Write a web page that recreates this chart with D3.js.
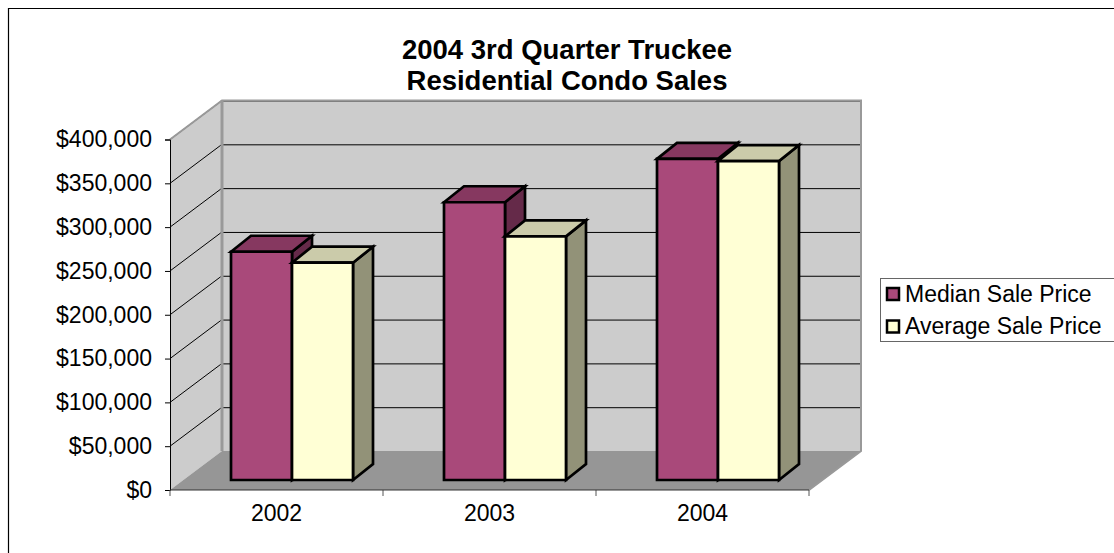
<!DOCTYPE html>
<html lang="en">
<head>
    <meta charset="UTF-8">
    <title>2004 3rd Quarter Truckee Residential Condo Sales</title>
    <style>
        body { margin: 0; padding: 0; background: #ffffff; overflow: hidden; }
        svg { display: block; }
        text { font-family: 'Liberation Sans', Arial, sans-serif; fill: #000000; }
        .tick-label { font-size: 23px; }
        .title { font-size: 27.5px; font-weight: bold; }
        .grid { stroke: #000000; stroke-width: 1px; fill: none; }
        .bar { stroke: #000000; stroke-width: 2.7px; stroke-linejoin: miter; }
    </style>
</head>
<body>
    <div id="chart"></div>

    <script src="https://d3js.org/d3.v7.min.js"></script>
    <script>
        const years = ['2002', '2003', '2004'];
        const seriesNames = ['Median Sale Price', 'Average Sale Price'];
        const medianPrice = [260500, 317000, 366500];
        const averagePrice = [248000, 278000, 364000];
        const yTicks = [0, 50000, 100000, 150000, 200000, 250000, 300000, 350000, 400000];
        const titleLines = ['2004 3rd Quarter Truckee', 'Residential Condo Sales'];

        const width = 1114;
        const height = 553;

        // front plane of the 3d box, everything else is shifted from it
        const plotLeft = 170, plotRight = 809, plotTop = 139.5, plotBottom = 490;
        const depthX = 52, depthY = -39;
        const barShiftX = 15.5, barShiftY = -10;
        const barDepthX = 20, barDepthY = -16;

        const svg = d3.select('#chart').append('svg')
            .attr('width', width)
            .attr('height', height);

        const x = d3.scaleBand().domain(years).range([plotLeft, plotRight]);
        const xInner = d3.scaleBand().domain(seriesNames)
            .range([0, x.bandwidth()])
            .paddingInner(0)
            .paddingOuter(0.746);
        const y = d3.scaleLinear().domain([0, 400000]).range([plotBottom, plotTop]);

        const poly = pts => d3.line()(pts) + 'Z';

        // frame, only the top and left edges show in the picture
        svg.append('path')
            .attr('d', d3.line()([[8.5, height], [8.5, 8.5], [width, 8.5]]))
            .attr('fill', 'none').attr('stroke', '#000000').attr('stroke-width', 1.2);

        // walls and floor
        svg.append('path')
            .attr('d', poly([[plotLeft, plotTop], [plotLeft + depthX, plotTop + depthY], [plotLeft + depthX, plotBottom + depthY], [plotLeft, plotBottom]]))
            .attr('fill', '#cccccc');
        svg.append('path')
            .attr('d', poly([[plotLeft + depthX, plotTop + depthY], [plotRight + depthX, plotTop + depthY], [plotRight + depthX, plotBottom + depthY], [plotLeft + depthX, plotBottom + depthY]]))
            .attr('fill', '#cccccc');
        svg.append('path')
            .attr('d', poly([[plotLeft, plotBottom], [plotRight, plotBottom], [plotRight + depthX, plotBottom + depthY], [plotLeft + depthX, plotBottom + depthY]]))
            .attr('fill', '#969696');

        // gridlines
        svg.append('g').selectAll('line')
            .data(yTicks.slice(1))
            .enter().append('line')
            .attr('class', 'grid')
            .attr('x1', plotLeft + depthX).attr('x2', plotRight + depthX)
            .attr('y1', d => y(d) + depthY + 0.5).attr('y2', d => y(d) + depthY + 0.5);
        svg.append('g').selectAll('line')
            .data(yTicks.slice(1))
            .enter().append('line')
            .attr('class', 'grid')
            .attr('x1', plotLeft).attr('x2', plotLeft + depthX)
            .attr('y1', d => y(d)).attr('y2', d => y(d) + depthY);

        // wall outlines
        svg.append('path')
            .attr('d', d3.line()([[plotLeft, plotTop], [plotLeft + depthX, plotTop + depthY], [plotRight + depthX, plotTop + depthY], [plotRight + depthX, plotBottom + depthY], [plotRight, plotBottom]]))
            .attr('fill', 'none').attr('stroke', '#999999').attr('stroke-width', 2);
        svg.append('line')
            .attr('x1', plotLeft + depthX).attr('x2', plotLeft + depthX)
            .attr('y1', plotTop + depthY).attr('y2', plotBottom + depthY)
            .attr('stroke', '#999999').attr('stroke-width', 3);

        // bars, median first so that the average bar sits over its side face
        const barSets = [
            { name: seriesNames[0], values: medianPrice, front: '#a9497a', roof: '#863860', side: '#652a49' },
            { name: seriesNames[1], values: averagePrice, front: '#ffffd5', roof: '#cbcbaa', side: '#929278' }
        ];
        barSets.forEach(s => {
            const g = svg.append('g').selectAll('g')
                .data(years.map((yr, i) => ({ yr, v: s.values[i] })))
                .enter().append('g');
            const x0 = d => x(d.yr) + xInner(s.name) + barShiftX;
            const x1 = d => x0(d) + xInner.bandwidth();
            const yTop = d => y(d.v) + barShiftY;
            const yBase = plotBottom + barShiftY;

            g.append('path').attr('class', 'bar').attr('fill', s.side)
                .attr('d', d => poly([[x1(d), yTop(d)], [x1(d) + barDepthX, yTop(d) + barDepthY], [x1(d) + barDepthX, yBase + barDepthY], [x1(d), yBase]]));
            g.append('path').attr('class', 'bar').attr('fill', s.roof)
                .attr('d', d => poly([[x0(d), yTop(d)], [x0(d) + barDepthX, yTop(d) + barDepthY], [x1(d) + barDepthX, yTop(d) + barDepthY], [x1(d), yTop(d)]]));
            g.append('path').attr('class', 'bar').attr('fill', s.front)
                .attr('d', d => poly([[x0(d), yTop(d)], [x1(d), yTop(d)], [x1(d), yBase], [x0(d), yBase]]));
        });

        // axes
        const yAxis = svg.append('g')
            .attr('transform', `translate(${plotLeft},0)`)
            .call(d3.axisLeft(y).tickValues(yTicks).tickSize(5).tickPadding(13).tickFormat(d => '$' + d3.format(',')(d)));
        yAxis.selectAll('text').attr('class', 'tick-label');

        const xAxis = svg.append('g')
            .attr('transform', `translate(0,${plotBottom})`)
            .call(d3.axisBottom(x).tickValues(years).tickSize(0).tickPadding(15));
        xAxis.select('.domain').remove();
        xAxis.selectAll('text').attr('class', 'tick-label');
        svg.append('g').selectAll('line')
            .data(years.concat('end'))
            .enter().append('line')
            .attr('x1', d => d === 'end' ? plotRight : x(d))
            .attr('x2', d => d === 'end' ? plotRight : x(d))
            .attr('y1', plotBottom).attr('y2', plotBottom + 6)
            .attr('stroke', '#555555');
        svg.append('line')
            .attr('x1', plotLeft).attr('x2', plotRight)
            .attr('y1', plotBottom).attr('y2', plotBottom)
            .attr('stroke', '#333333');

        // title
        svg.append('g').selectAll('text')
            .data(titleLines)
            .enter().append('text')
            .attr('class', 'title')
            .attr('text-anchor', 'middle')
            .attr('x', 567)
            .attr('y', (d, i) => 59 + i * 31)
            .text(d => d);

        // legend
        const legend = svg.append('g');
        legend.append('rect')
            .attr('x', 880.5).attr('y', 278.5)
            .attr('width', 240).attr('height', 63)
            .attr('fill', '#ffffff').attr('stroke', '#666666');
        const legendRow = legend.selectAll('g')
            .data(barSets)
            .enter().append('g')
            .attr('transform', (d, i) => `translate(0,${294 + i * 32.5})`);
        legendRow.append('rect')
            .attr('x', 887).attr('y', -6)
            .attr('width', 12).attr('height', 12)
            .attr('fill', d => d.front)
            .attr('stroke', '#000000').attr('stroke-width', 2.5);
        legendRow.append('text')
            .attr('class', 'tick-label')
            .attr('x', 905).attr('dy', '0.34em')
            .text(d => d.name);
    </script>
</body>
</html>
